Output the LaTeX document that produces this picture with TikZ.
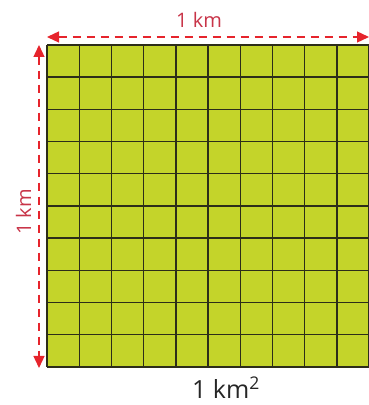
\documentclass[tikz,border=0pt]{standalone}
\usepackage{fontspec}
\setmainfont{Open Sans}
\usetikzlibrary{arrows.meta}
\definecolor{gridgreen}{RGB}{196,212,42}
\definecolor{gridline}{RGB}{45,45,25}
\definecolor{dimred}{RGB}{230,36,44}
\definecolor{labelred}{RGB}{200,52,72}
\tikzset{
  dimline/.style={dimred, line width=1.3pt, dash pattern=on 8pt off 6pt,
    {Triangle[length=12pt,width=11pt]}-{Triangle[length=12pt,width=11pt]}},
  dimlabel/.style={labelred, font=\fontsize{20}{24}\selectfont, inner sep=0pt, anchor=base},
  arealabel/.style={black!85, font=\fontsize{25}{30}\selectfont, inner sep=0pt, anchor=base},
  gridstroke/.style={gridline, line width=1.4pt}
}
\begin{document}
\begin{tikzpicture}[x=1pt,y=1pt]
\useasboundingbox (0,0) rectangle (369,405);
\fill[gridgreen] (47,38) rectangle (369,360);
\foreach \i in {0,...,10} {
  \draw[gridstroke] ({47+32.2*\i},38) -- ({47+32.2*\i},360);
  \draw[gridstroke] (47,{38+32.2*\i}) -- (369,{38+32.2*\i});
}
\coordinate (tl) at (47,368);
\coordinate (tr) at (369,368);
\coordinate (lt) at (39,360);
\coordinate (lb) at (39,37);
\draw[dimline] (tl) -- (tr);
\draw[dimline] (lt) -- (lb);
\node[dimlabel] (wlabel) at (199,377) {1 km};
\node[dimlabel, rotate=90] (hlabel) at (31,193) {1 km};
\node[arealabel] (alabel) at (226,6) {1 km\textsuperscript{2}};
\end{tikzpicture}
\end{document}
